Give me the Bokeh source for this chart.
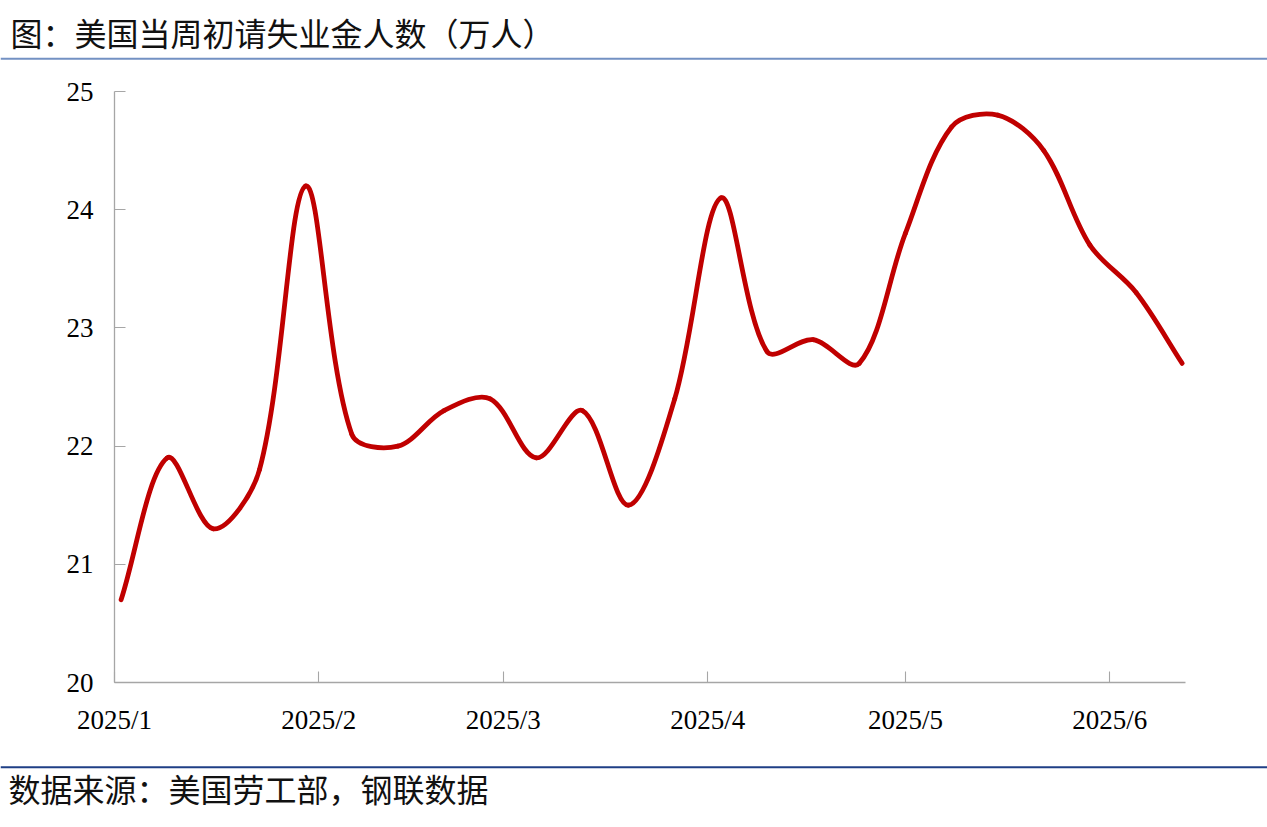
import math
import pandas as pd
from bokeh.plotting import figure
from bokeh.models import Range1d, FixedTicker, CustomJSTickFormatter, ColumnDataSource
from bokeh.core.properties import value
from bokeh.embed import file_html
from bokeh.resources import INLINE

title_text = "图：美国当周初请失业金人数（万人）"
source_text = "数据来源：美国劳工部，钢联数据"

dates = ["2025-01-02", "2025-01-09", "2025-01-16", "2025-01-23", "2025-01-30",
         "2025-02-06", "2025-02-13", "2025-02-20", "2025-02-27",
         "2025-03-06", "2025-03-13", "2025-03-20", "2025-03-27",
         "2025-04-03", "2025-04-10", "2025-04-17", "2025-04-24",
         "2025-05-01", "2025-05-08", "2025-05-15", "2025-05-22", "2025-05-29",
         "2025-06-05", "2025-06-12"]
claims = [20.7, 21.9, 21.3, 21.8, 24.2,
          22.1, 22.0, 22.3, 22.4,
          21.9, 22.3, 21.5, 22.4,
          24.1, 22.8, 22.9, 22.7,
          23.8, 24.7, 24.8, 24.5, 23.7,
          23.3, 22.7]
month_ticks = ["2025-01-01", "2025-02-01", "2025-03-01", "2025-04-01", "2025-05-01", "2025-06-01"]
y_ticks = [20, 21, 22, 23, 24, 25]


def to_ms(d):
    return pd.Timestamp(d).value / 1e6


DAY = 86400000.0
W = 1267
TOP_H = 74            # title strip: page y 0..74
MAIN_H = 676          # chart: page y 74..750
BOT_H = 72            # source strip: page y 750..822
FL, FR, FT, FB = 114, 1185, 91, 682          # frame edges on the page
X0 = to_ms(month_ticks[0])
X1 = to_ms(dates[-1]) + 0.5 * DAY
Y0, Y1 = 20.0, 25.0
SX = (FR - FL) / (X1 - X0)
SY = (FB - FT) / (Y1 - Y0)

# ---- smooth curve (Excel-like) as cubic Bezier segments through the data ----
xs = [to_ms(d) for d in dates]
ys = claims
n = len(xs)


def pdist(i, j):
    return math.hypot((xs[j] - xs[i]) * SX, (ys[j] - ys[i]) * SY)


h_out, h_in = [], []
for i in range(n):
    a = max(i - 1, 0)
    b = min(i + 1, n - 1)
    tx, ty = xs[b] - xs[a], ys[b] - ys[a]
    dp = pdist(a, i)
    dn = pdist(i, b)
    s = dp + dn
    rout = dn / s if s else 0.5
    rin = dp / s if s else 0.5
    h_out.append((xs[i] + tx * rout / 3.0, ys[i] + ty * rout / 3.0))
    h_in.append((xs[i] - tx * rin / 3.0, ys[i] - ty * rin / 3.0))

seg = dict(x0=[], y0=[], x1=[], y1=[], cx0=[], cy0=[], cx1=[], cy1=[])
for i in range(n - 1):
    seg["x0"].append(xs[i]); seg["y0"].append(ys[i])
    seg["x1"].append(xs[i + 1]); seg["y1"].append(ys[i + 1])
    seg["cx0"].append(h_out[i][0]); seg["cy0"].append(h_out[i][1])
    seg["cx1"].append(h_in[i + 1][0]); seg["cy1"].append(h_in[i + 1][1])
src = ColumnDataSource(seg)


def strip(height):
    f = figure(width=W, height=height, x_range=Range1d(0, W), y_range=Range1d(height, 0),
               output_backend="svg", toolbar_location=None, min_border=0,
               x_axis_location=None, y_axis_location=None)
    f.outline_line_color = None
    f.grid.visible = False
    f.background_fill_color = "white"
    f.border_fill_color = "white"
    return f


# ---- title strip ----
top = strip(TOP_H)
top.text(x=[10], y=[31], text=[title_text], text_font=value("Noto Sans CJK SC"),
         text_font_size="32px", text_baseline="middle", text_align="left", text_color="#111111")
top.line(x=[0, W], y=[58.3, 58.3], line_color="#7391C3", line_width=2)

# ---- main chart ----
p = figure(width=W, height=MAIN_H,
           x_range=Range1d(X0, X1), y_range=Range1d(Y0, Y1),
           output_backend="svg", toolbar_location=None,
           min_border_left=FL, min_border_right=W - FR,
           min_border_top=FT - TOP_H, min_border_bottom=TOP_H + MAIN_H - FB)
p.outline_line_color = None
p.xgrid.visible = False
p.ygrid.visible = False
p.background_fill_color = "white"
p.border_fill_color = "white"

p.bezier(x0="x0", y0="y0", x1="x1", y1="y1", cx0="cx0", cy0="cy0", cx1="cx1", cy1="cy1",
         source=src, line_color="#C00000", line_width=4.8, line_cap="round")

p.xaxis.ticker = FixedTicker(ticks=[to_ms(m) for m in month_ticks])
p.xaxis.formatter = CustomJSTickFormatter(
    code="const d = new Date(tick); return d.getUTCFullYear() + '/' + (d.getUTCMonth() + 1);")
p.yaxis.ticker = FixedTicker(ticks=y_ticks)

for ax in (p.xaxis[0], p.yaxis[0]):
    ax.axis_line_color = "#A6A6A6"
    ax.axis_line_width = 1.3
    ax.major_tick_line_color = "#A6A6A6"
    ax.major_tick_line_width = 1.1
    ax.major_tick_in = 11
    ax.major_tick_out = 0
    ax.minor_tick_line_color = None
    ax.major_label_text_font = "Liberation Serif"
    ax.major_label_text_font_size = "27px"
    ax.major_label_text_color = "black"
p.xaxis.major_label_standoff = 22
p.yaxis.major_label_standoff = 21

# ---- source strip ----
bot = strip(BOT_H)
bot.line(x=[0, W], y=[16.7, 16.7], line_color="#1F3F86", line_width=2)
bot.text(x=[8], y=[37], text=[source_text], text_font=value("Noto Sans CJK SC"),
         text_font_size="32px", text_baseline="middle", text_align="left", text_color="#111111")

open("out.html", "w").write(file_html([top, p, bot], INLINE))
